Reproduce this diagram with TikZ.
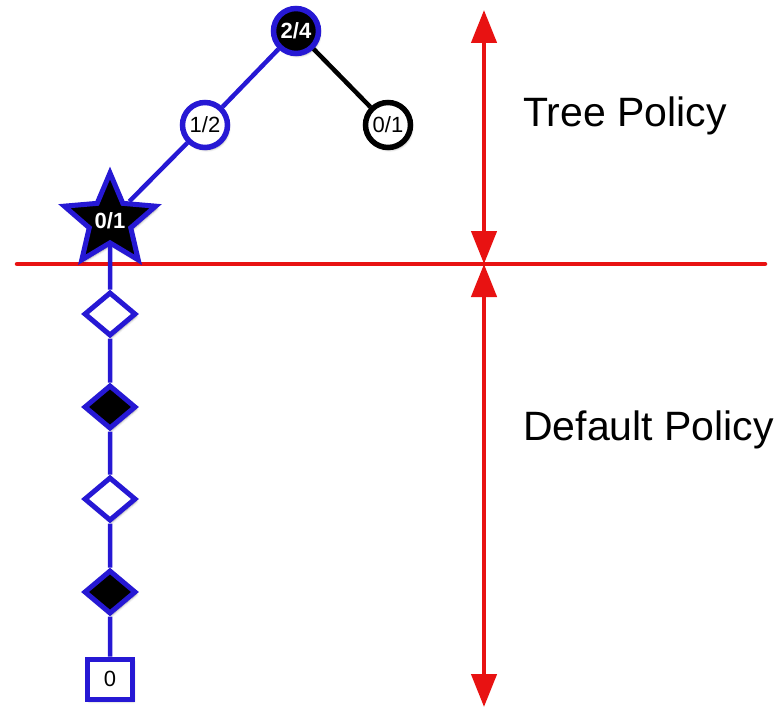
\documentclass[tikz,border=0pt]{standalone}
\usepackage{fontspec}
\setmainfont{Liberation Sans}
\usepackage{tikz}
\usetikzlibrary{arrows.meta,shapes.geometric,shadows.blur}

\definecolor{treeblue}{RGB}{38,24,212}
\definecolor{policyred}{RGB}{232,18,18}

\begin{document}
\begin{tikzpicture}[x=1pt,y=-1pt,
        nodeshadow/.style={blur shadow={shadow xshift=1.5pt,shadow yshift=-2.5pt,shadow blur steps=6,shadow opacity=35}},
        bluecircle/.style={circle,draw=treeblue,line width=5.5pt,minimum size=45pt,inner sep=0pt,font=\fontsize{22}{24}\selectfont,nodeshadow},
        blackcircle/.style={bluecircle,draw=black},
        starnode/.style={star,star points=5,star point ratio=2.2,draw=treeblue,fill=black,text=white,line width=5pt,minimum size=96pt,inner sep=0pt,font=\fontsize{22}{24}\selectfont\bfseries,nodeshadow},
        rollout/.style={diamond,draw=treeblue,line width=5pt,minimum width=52pt,minimum height=44pt,inner sep=0pt,nodeshadow},
        terminal/.style={rectangle,draw=treeblue,fill=white,line width=5pt,minimum width=45pt,minimum height=40pt,inner sep=0pt,font=\fontsize{22}{24}\selectfont,nodeshadow},
        treeedge/.style={treeblue,line width=4.5pt},
        redline/.style={policyred,line width=4.5pt},
        redarrow/.style={policyred,line width=4.5pt,{Triangle[length=33pt,width=25pt]}-{Triangle[length=33pt,width=25pt]}},
        label/.style={font=\fontsize{41}{48}\selectfont,anchor=base west,inner sep=0pt}]
    \useasboundingbox (0,0) rectangle (778,714);
    % split line and arrows
    \coordinate (lineL) at (17,264);
    \coordinate (lineR) at (765,264);
    \coordinate (arrowtop) at (484,10);
    \coordinate (arrowmid) at (484,264);
    \coordinate (arrowbot) at (484,707);
    \draw [redline,line cap=round] (lineL) -- (lineR);
    \draw [redarrow] (arrowtop) -- (arrowmid);
    \draw [redarrow] (arrowmid) -- (arrowbot);
    \node [label] (treetext) at (523,127) {Tree Policy};
    \node [label] (defaulttext) at (523,440) {Default Policy};
    % tree
    \node [bluecircle,fill=black,text=white,font=\fontsize{22}{24}\selectfont\bfseries] (root) at (296,31) {2/4};
    \node [bluecircle,fill=white] (mid) at (205,125) {1/2};
    \node [blackcircle,fill=white] (other) at (388,125) {0/1};
    \node [starnode] (leaf) at (110,221) {0/1};
    % default policy
    \node [rollout,fill=white] (d1) at (110,314) {};
    \node [rollout,fill=black] (d2) at (110,407) {};
    \node [rollout,fill=white] (d3) at (110,499) {};
    \node [rollout,fill=black] (d4) at (110,592) {};
    \node [terminal] (result) at (110,679) {0};
    \draw [treeedge] (root) -- (mid);
    \draw [treeedge] (mid) -- (leaf);
    \draw [line width=4.5pt] (root) -- (other);
    \draw [treeedge] (leaf) -- (d1) -- (d2) -- (d3) -- (d4) -- (result);
\end{tikzpicture}
\end{document}
